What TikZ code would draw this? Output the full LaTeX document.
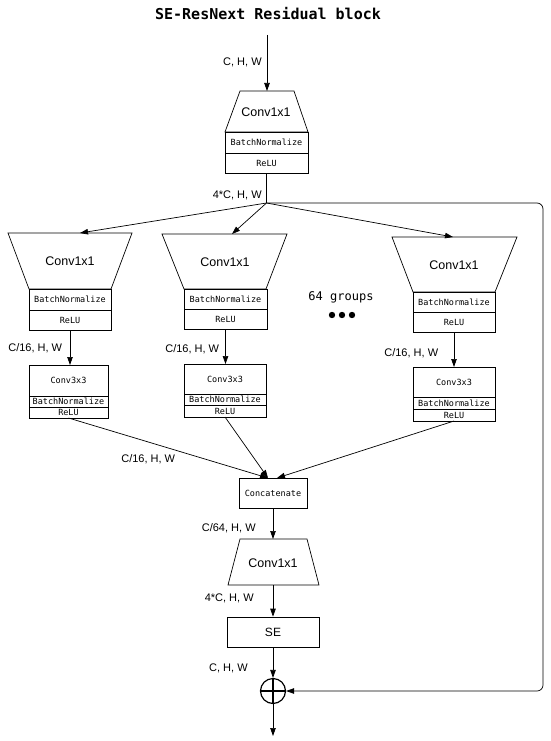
\documentclass[tikz,border=0pt]{standalone}
\usepackage{fontspec}
\setmainfont{Liberation Sans}
\newfontfamily\monof{DejaVu Sans Mono}
\usetikzlibrary{arrows.meta}
\begin{document}
\begin{tikzpicture}[x=1pt,y=-1pt, line width=0.7pt,
  >={Triangle[length=8pt,width=5.5pt]},
  lbl/.style={font=\fontsize{11}{12}\selectfont, inner sep=0},
  cell/.style={draw, inner sep=0, outer sep=0, font=\monof\fontsize{8.5}{9}\selectfont},
  big/.style={font=\fontsize{12.5}{14}\selectfont, inner sep=0},
  trap/.style={draw, line join=miter}]
\useasboundingbox (0,0) rectangle (550,741);

% title
\node[font=\monof\bfseries\fontsize{15}{16}\selectfont] (title) at (268,14) {SE-ResNext Residual block};

% top block
\coordinate (in) at (267,35);
\coordinate (c0top) at (267,91);
\draw[trap] (240,91) -- (294,91) -- (308,132) -- (225,132) -- cycle;
\node[big] (c0) at (266,112) {Conv1x1};
\node[cell, minimum width=83, minimum height=21, anchor=north west] (bn0) at (225,132) {BatchNormalize};
\node[cell, minimum width=83, minimum height=20, anchor=north west] (re0) at (225,153) {ReLU};
\draw[->] (in) -- (c0top);
\node[lbl, anchor=east] (l0) at (262,62) {C, H, W};

\coordinate (J) at (266.5,203);
\draw (re0.south) -- (J);
\node[lbl, anchor=east] (l1) at (262,195) {4*C, H, W};

% group 1 (left)
\coordinate (t1) at (80,233);
\draw[trap] (8,233) -- (132,233) -- (111,289) -- (29,289) -- cycle;
\node[big] (c1) at (70,261) {Conv1x1};
\node[cell, minimum width=82, minimum height=21, anchor=north west] (bn1) at (29,289) {BatchNormalize};
\node[cell, minimum width=82, minimum height=20, anchor=north west] (re1) at (29,310) {ReLU};
\node[cell, minimum width=79, minimum height=31, anchor=north west] (k1) at (29,365) {Conv3x3};
\node[cell, minimum width=79, minimum height=11, anchor=north west] (kb1) at (29,396) {BatchNormalize};
\node[cell, minimum width=79, minimum height=11, anchor=north west] (kr1) at (29,407) {ReLU};
\draw[->] (re1.south) -- (re1.south |- k1.north);
\node[lbl, anchor=west] (l2) at (8,348) {C/16, H, W};

% group 2 (middle)
\coordinate (t2) at (232,234);
\draw[trap] (162,234) -- (287,234) -- (266,289) -- (184,289) -- cycle;
\node[big] (c2) at (225,262) {Conv1x1};
\node[cell, minimum width=83, minimum height=20, anchor=north west] (bn2) at (184,289) {BatchNormalize};
\node[cell, minimum width=83, minimum height=20, anchor=north west] (re2) at (184,309) {ReLU};
\node[cell, minimum width=82, minimum height=30, anchor=north west] (k2) at (184,364) {Conv3x3};
\node[cell, minimum width=82, minimum height=11, anchor=north west] (kb2) at (184,394) {BatchNormalize};
\node[cell, minimum width=82, minimum height=12, anchor=north west] (kr2) at (184,405) {ReLU};
\draw[->] (re2.south) -- (re2.south |- k2.north);
\node[lbl, anchor=west] (l3) at (165,349) {C/16, H, W};

% group 3 (right)
\coordinate (t3) at (453,237);
\draw[trap] (392,237) -- (517,237) -- (495,292) -- (413,292) -- cycle;
\node[big] (c3) at (454,265) {Conv1x1};
\node[cell, minimum width=82, minimum height=20, anchor=north west] (bn3) at (413,292) {BatchNormalize};
\node[cell, minimum width=82, minimum height=20, anchor=north west] (re3) at (413,312) {ReLU};
\node[cell, minimum width=82, minimum height=30, anchor=north west] (k3) at (413,367) {Conv3x3};
\node[cell, minimum width=82, minimum height=12, anchor=north west] (kb3) at (413,397) {BatchNormalize};
\node[cell, minimum width=82, minimum height=12, anchor=north west] (kr3) at (413,409) {ReLU};
\draw[->] (re3.south) -- (re3.south |- k3.north);
\node[lbl, anchor=west] (l4) at (384,353) {C/16, H, W};

% groups note
\node[font=\monof\fontsize{12}{13}\selectfont, inner sep=0] (grp) at (341,297) {64 groups};
\fill (332,315) circle (3.2) (342,315) circle (3.2) (352,315) circle (3.2);

% fan out
\draw[->] (J) -- (t1);
\draw[->] (J) -- (t2);
\draw[->] (J) -- (t3);

% concatenate
\node[cell, minimum width=68, minimum height=30] (cat) at (273,493) {Concatenate};
\coordinate (catL) at (268,478);
\coordinate (catR) at (277,478);
\draw[->] (kr1.south) -- (catL);
\draw[->] (kr2.south) -- (catL);
\draw[->] (kr3.south) -- (catR);
\node[lbl, anchor=west] (l5) at (121,459) {C/16, H, W};

% bottom conv
\coordinate (c4top) at (273,539);
\coordinate (c4bot) at (273,585);
\draw[->] (cat.south) -- (c4top);
\node[lbl, anchor=east] (l6) at (256,528) {C/64, H, W};
\draw[trap] (240,539) -- (307,539) -- (319,585) -- (228,585) -- cycle;
\node[big] (c4) at (273,563) {Conv1x1};

% SE
\node[draw, inner sep=0, minimum width=92, minimum height=30, font=\fontsize{12}{13}\selectfont] (se) at (273,632) {SE};
\draw[->] (c4bot) -- (se.north);
\node[lbl, anchor=east] (l7) at (254,598) {4*C, H, W};

% plus
\node[circle, draw, line width=1.2pt, minimum size=25, inner sep=0] (plus) at (273,691) {};
\draw[line width=1.2pt] (plus.north) -- (plus.south) (plus.west) -- (plus.east);
\draw[->] (se.south) -- (plus.north);
\node[lbl, anchor=east] (l8) at (248,668) {C, H, W};
\coordinate (out) at (273,736);
\draw[->] (plus.south) -- (out);

% skip connection
\draw[->, rounded corners=6] (J) -- (543,203) -- (543,691) -- (plus.east);
\end{tikzpicture}
\end{document}
